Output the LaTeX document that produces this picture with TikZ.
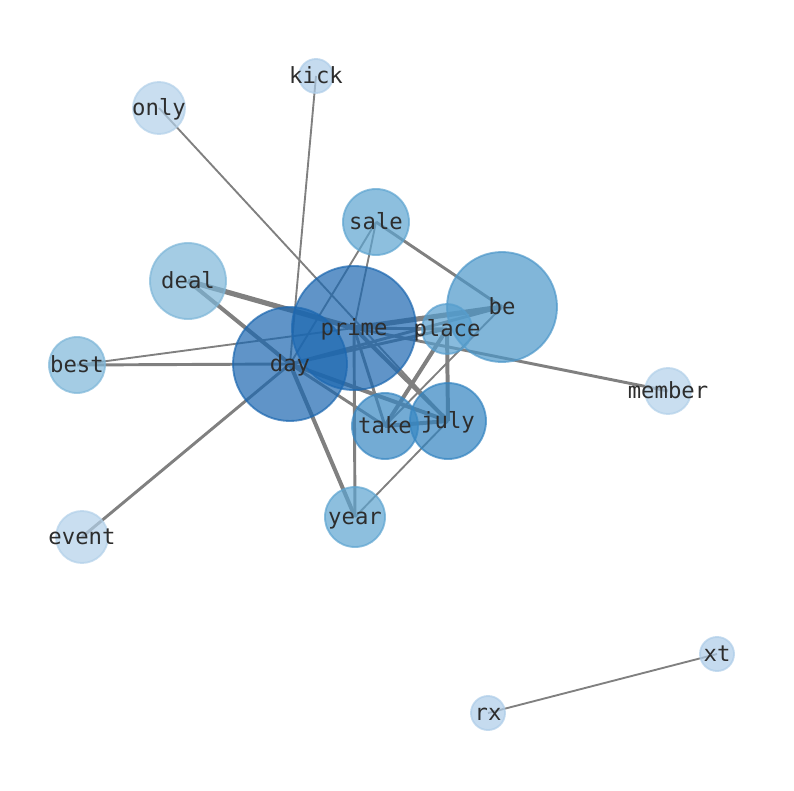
\documentclass[tikz,border=0pt]{standalone}
\usepackage{fontspec}
\setmonofont{DejaVu Sans Mono}
\definecolor{linkgray}{RGB}{128,128,128}
\definecolor{wordgray}{RGB}{45,45,45}
\definecolor{blueA}{RGB}{28,103,176}
\definecolor{blueB}{RGB}{76,151,201}
\definecolor{blueC}{RGB}{50,131,192}
\definecolor{blueD}{RGB}{56,135,194}
\definecolor{blueE}{RGB}{86,158,206}
\definecolor{blueF}{RGB}{93,164,208}
\definecolor{blueG}{RGB}{125,182,216}
\definecolor{blueH}{RGB}{178,208,233}
\definecolor{blueI}{RGB}{173,204,232}
\begin{document}
\begin{tikzpicture}[x=0.03cm,y=-0.03cm,
    link/.style={draw=linkgray,line width=#1},
    bubble/.style={circle,inner sep=0pt,fill=#1,draw=#1,fill opacity=0.7,draw opacity=0.7,line width=1.6pt},
    word/.style={font=\ttfamily\fontsize{19}{19}\selectfont,text=wordgray,inner sep=0pt,text height=0.76em,text depth=0.22em,yshift=-0.12cm}]
      \useasboundingbox (0,0) rectangle (794,790);

      \coordinate (kick) at (316,76);
      \coordinate (only) at (159,108);
      \coordinate (sale) at (376,222);
      \coordinate (deal) at (188,281);
      \coordinate (prime) at (354,328);
      \coordinate (place) at (447,329);
      \coordinate (be) at (502,307);
      \coordinate (best) at (77,365);
      \coordinate (day) at (290,364);
      \coordinate (member) at (668,391);
      \coordinate (take) at (385,426);
      \coordinate (july) at (448,421);
      \coordinate (year) at (355,517);
      \coordinate (event) at (82,537);
      \coordinate (xt) at (717,654);
      \coordinate (rx) at (488,713);

      \foreach \a/\b in {kick/day,only/july,sale/day,sale/prime,be/take,july/year,best/prime,rx/xt}
          \draw[link=1.6pt] (\a) -- (\b);
      \foreach \a/\b in {sale/be,prime/take,prime/year,best/day,event/day,prime/member,prime/place,day/place,day/be,day/take}
          \draw[link=2.5pt] (\a) -- (\b);
      \foreach \a/\b in {deal/day,day/july,prime/july,day/year,place/take,place/july,take/july}
          \draw[link=3.4pt] (\a) -- (\b);
      \foreach \a/\b in {deal/prime,prime/be}
          \draw[link=4.4pt] (\a) -- (\b);

      \foreach \n/\r/\c in {kick/17/blueI,only/26/blueH,sale/33/blueF,deal/38/blueG,be/55/blueB,
          best/28/blueG,member/23/blueH,july/38/blueC,take/33/blueD,place/25/blueE,
          year/30/blueF,event/26/blueH,xt/17/blueI,rx/17/blueI,prime/62/blueA,day/57/blueA}
          \node[bubble=\c,minimum size={\r*0.06cm}] (\n-ball) at (\n) {};

      \foreach \n in {kick,only,sale,deal,be,best,member,july,take,place,year,event,xt,rx,prime,day}
          \node[word] (\n-word) at (\n) {\n};
\end{tikzpicture}
\end{document}
